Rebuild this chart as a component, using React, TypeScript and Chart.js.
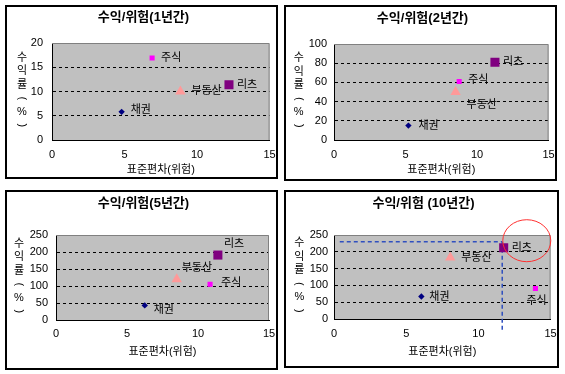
import React, { useEffect, useRef } from 'react';
import { Chart, registerables } from 'chart.js';

Chart.register(...registerables);

// ---------- data ----------
const assets = ['채권', '주식', '부동산', '리츠'];
const titles = ['수익/위험(1년간)', '수익/위험(2년간)', '수익/위험(5년간)', '수익/위험 (10년간)'];
const risk1 = [4.8, 6.9, 8.85, 12.2];
const ret1 = [5.8, 16.9, 10.0, 11.4];
const risk2 = [5.2, 8.75, 8.5, 11.25];
const ret2 = [15, 61, 50, 81];
const risk5 = [6.25, 10.85, 8.5, 11.4];
const ret5 = [43, 105, 120, 191];
const risk10 = [6.05, 13.95, 8.05, 11.75];
const ret10 = [67, 91, 183, 212];
const xMin = 0;
const xMax = 15;
const xStep = 5;
const yMaxes = [20, 100, 250, 250];
const ySteps = [5, 20, 50, 50];
const xAxisTitle = '표준편차(위험)';
const yAxisTitle = ['수', '익', '률', '(', '%', ')'];
// 10-year annotation (guide lines to the REITs point and a circle)
const guideStartRisk = 0.4;
const guideRisk = 11.65;
const guideReturn = 230;
const circleRisk = 13.35;
const circleReturn = 233;

// ---------- styles ----------
const pointStyles = ['rectRot', 'rect', 'triangle', 'rect'];
const pointColors = ['#000080', '#FF00FF', '#FF9999', '#800080'];
const pointRadii = [3.2, 3.6, 6, 6.4];
const FONT = "'Liberation Sans', 'Noto Sans CJK KR', sans-serif";

type PanelCfg = {
  title: string;
  risk: number[];
  ret: number[];
  yMax: number;
  yStep: number;
  box: [number, number, number, number];
  plot: { left: number; top: number; padRight: number; below: number };
  yTickPad: number;
  xTickPad: number;
  titleY: number;
  yTitleX: number;
  xTitleDy: number;
  labelOffsets: [number, number][];
  guide?: boolean;
};

const panels: PanelCfg[] = [
  {
    title: titles[0], risk: risk1, ret: ret1, yMax: yMaxes[0], yStep: ySteps[0],
    box: [5, 5, 273, 174], plot: { left: 45, top: 36, padRight: 5, below: 37 },
    yTickPad: 9, xTickPad: 8, titleY: 10, yTitleX: 15, xTitleDy: 30,
    labelOffsets: [[9, -2], [9, 0], [11, -1], [8, 0]],
  },
  {
    title: titles[1], risk: risk2, ret: ret2, yMax: yMaxes[1], yStep: ySteps[1],
    box: [284, 5, 273, 176], plot: { left: 48, top: 37, padRight: 5, below: 39 },
    yTickPad: 7, xTickPad: 8, titleY: 11, yTitleX: 12.7, xTitleDy: 30,
    labelOffsets: [[10, 0], [9, -1], [11, 13], [8, 0]],
  },
  {
    title: titles[2], risk: risk5, ret: ret5, yMax: yMaxes[2], yStep: ySteps[2],
    box: [5, 190, 273, 180], plot: { left: 49, top: 43, padRight: 7, below: 48 },
    yTickPad: 8, xTickPad: 7, titleY: 11.7, yTitleX: 12, xTitleDy: 32,
    labelOffsets: [[9, 5], [11, -1], [5, -11], [6, -11]],
  },
  {
    title: titles[3], risk: risk10, ret: ret10, yMax: yMaxes[3], yStep: ySteps[3],
    box: [284, 190, 275, 178], plot: { left: 48, top: 43, padRight: 6, below: 47 },
    yTickPad: 6, xTickPad: 8, titleY: 11.7, yTitleX: 13.3, xTitleDy: 33,
    labelOffsets: [[8, 0], [-9, 13], [11, 0], [8, 0]],
    guide: true,
  },
];

function Panel({ cfg }: { cfg: PanelCfg }) {
  const ref = useRef<HTMLCanvasElement>(null);
  const [bl, bt, bw, bh] = cfg.box;
  const cw = bw - 4;
  const ch = bh - 4;

  useEffect(() => {
    const canvas = ref.current;
    if (!canvas) return;

    const deco = {
      id: 'deco',
      beforeDraw(chart: any) {
        const { ctx, chartArea: a } = chart;
        ctx.save();
        ctx.fillStyle = '#C0C0C0';
        ctx.fillRect(a.left, a.top, a.right - a.left, a.bottom - a.top);
        ctx.restore();
      },
      beforeDatasetsDraw(chart: any) {
        const { ctx, chartArea: a, scales } = chart;
        ctx.save();
        ctx.strokeStyle = '#808080';
        ctx.lineWidth = 1;
        ctx.beginPath();
        ctx.moveTo(a.left, a.top + 0.5);
        ctx.lineTo(a.right - 0.5, a.top + 0.5);
        ctx.lineTo(a.right - 0.5, a.bottom);
        ctx.stroke();
        if (cfg.guide) {
          const gx = scales.x.getPixelForValue(guideRisk);
          const gx0 = scales.x.getPixelForValue(guideStartRisk);
          const gy = scales.y.getPixelForValue(guideReturn);
          ctx.strokeStyle = '#2F4FBF';
          ctx.lineWidth = 1.5;
          ctx.setLineDash([4, 3]);
          ctx.beginPath();
          ctx.moveTo(gx0, gy);
          ctx.lineTo(gx, gy);
          ctx.moveTo(gx, gy);
          ctx.lineTo(gx, a.bottom + 13);
          ctx.stroke();
        }
        ctx.restore();
      },
      afterDraw(chart: any) {
        const { ctx, chartArea: a, scales } = chart;
        ctx.save();
        ctx.fillStyle = '#000';
        // title
        ctx.font = `bold 13px ${FONT}`;
        ctx.textAlign = 'center';
        ctx.textBaseline = 'middle';
        ctx.fillText(cfg.title, cw / 2 + 2, cfg.titleY);
        // x axis title
        ctx.font = `11px ${FONT}`;
        ctx.fillText(xAxisTitle, (a.left + a.right) / 2, a.bottom + cfg.xTitleDy);
        // y axis title (stacked)
        const midY = (a.top + a.bottom) / 2;
        const step = 13.5;
        yAxisTitle.forEach((c, i) => {
          const yy = midY + (i - (yAxisTitle.length - 1) / 2) * step;
          if (c === '(' || c === ')') {
            ctx.save();
            ctx.translate(cfg.yTitleX, yy);
            ctx.rotate(Math.PI / 2);
            ctx.fillText(c, 0, 0);
            ctx.restore();
          } else {
            ctx.fillText(c, cfg.yTitleX, yy);
          }
        });
        // point labels
        const meta = chart.getDatasetMeta(0);
        ctx.textAlign = 'left';
        ctx.font = `11px ${FONT}`;
        meta.data.forEach((pt: any, i: number) => {
          const [dx, dy] = cfg.labelOffsets[i];
          ctx.fillText(assets[i], pt.x + dx, pt.y + dy);
        });
        if (cfg.guide) {
          const cx = scales.x.getPixelForValue(circleRisk);
          const cy = scales.y.getPixelForValue(circleReturn);
          ctx.strokeStyle = '#FF3030';
          ctx.lineWidth = 1;
          ctx.beginPath();
          ctx.ellipse(cx, cy, 24, 21, 0, 0, Math.PI * 2);
          ctx.stroke();
        }
        ctx.restore();
      },
    };

    const yMax = cfg.yMax;
    const chart = new Chart(canvas, {
      type: 'scatter',
      data: {
        datasets: [
          {
            data: cfg.risk.map((x, i) => ({ x, y: cfg.ret[i] })),
            pointStyle: pointStyles as any,
            backgroundColor: pointColors,
            borderColor: pointColors,
            borderWidth: 0,
            pointRadius: pointRadii,
            pointHoverRadius: pointRadii,
          },
        ],
      },
      options: {
        responsive: false,
        animation: false,
        devicePixelRatio: 1,
        layout: { padding: { left: 0, top: cfg.plot.top, right: cfg.plot.padRight, bottom: 0 } },
        plugins: { legend: { display: false }, tooltip: { enabled: false }, title: { display: false } },
        scales: {
          x: {
            type: 'linear',
            min: xMin,
            max: xMax,
            ticks: { stepSize: xStep, color: '#000', font: { family: FONT, size: 11 }, padding: cfg.xTickPad, maxRotation: 0 },
            grid: { display: false, drawTicks: false },
            border: { display: true, color: '#000', width: 1 },
            afterFit(s: any) {
              s.height = cfg.plot.below;
              s.paddingLeft = 0;
              s.paddingRight = 0;
            },
          },
          y: {
            type: 'linear',
            min: 0,
            max: yMax,
            ticks: { stepSize: cfg.yStep, color: '#000', font: { family: FONT, size: 11 }, padding: cfg.yTickPad },
            grid: {
              drawTicks: false,
              lineWidth: 1,
              color: (c: any) =>
                c.tick && c.tick.value > 0 && c.tick.value < yMax ? '#000' : 'rgba(0,0,0,0)',
            },
            border: { display: true, color: '#000', width: 1, dash: [3, 3] },
            afterFit(s: any) {
              s.width = cfg.plot.left;
              s.paddingTop = 0;
              s.paddingBottom = 0;
            },
          },
        },
      } as any,
      plugins: [deco],
    });
    return () => chart.destroy();
  }, []);

  return (
    <div
      style={{
        position: 'absolute',
        left: bl,
        top: bt,
        width: bw,
        height: bh,
        border: '2px solid #000',
        boxSizing: 'border-box',
        background: '#fff',
      }}
    >
      <canvas ref={ref} width={cw} height={ch} style={{ display: 'block', width: cw, height: ch }} />
    </div>
  );
}

export default function App() {
  return (
    <div style={{ position: 'absolute', left: 0, top: 0, width: 565, height: 374, background: '#fff' }}>
      {panels.map((p, i) => (
        <Panel key={i} cfg={p} />
      ))}
    </div>
  );
}
